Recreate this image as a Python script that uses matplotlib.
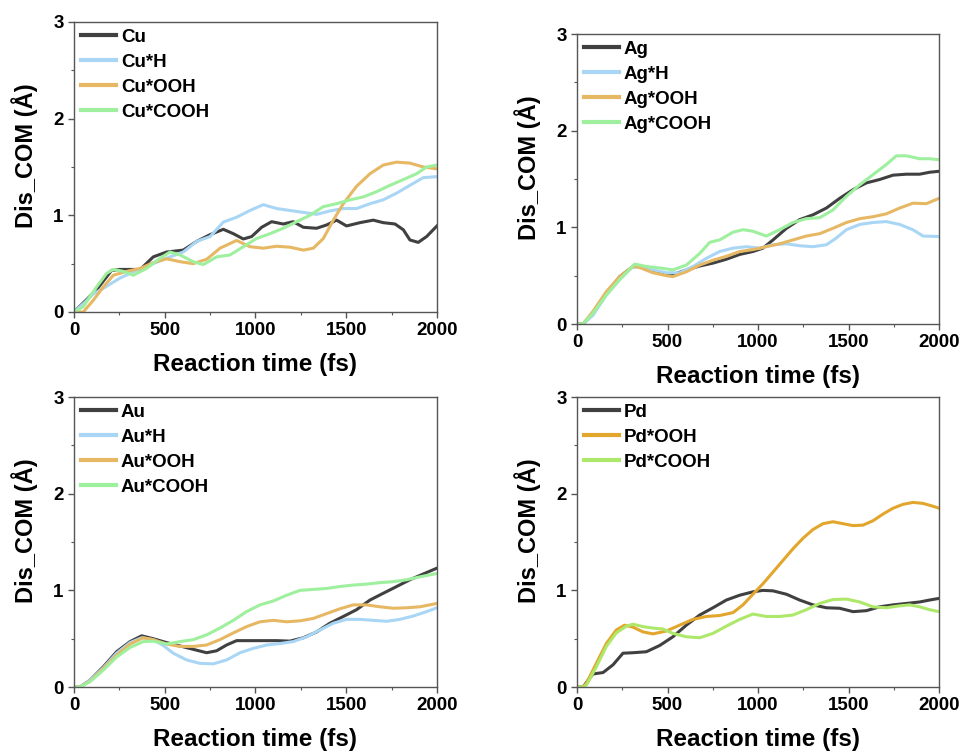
import matplotlib
matplotlib.use("Agg")
import matplotlib.pyplot as plt
from matplotlib.ticker import MultipleLocator

plt.rcParams['font.family'] = ['Liberation Sans', 'DejaVu Sans']
plt.rcParams['font.weight'] = 'bold'

# ---- Cu panel ----
cu_t = [0, 125, 207, 253, 365, 437, 510, 602, 676, 750, 823, 878, 933, 979, 1034, 1089, 1153, 1208,
        1264, 1337, 1392, 1447, 1502, 1576, 1649, 1704, 1769, 1815, 1851, 1897, 1943, 2000]
cu_v = [0, 0.23, 0.43, 0.44, 0.44, 0.57, 0.62, 0.64, 0.73, 0.80, 0.855, 0.81, 0.755, 0.78, 0.876, 0.934,
        0.91, 0.934, 0.876, 0.866, 0.90, 0.95, 0.89, 0.924, 0.95, 0.924, 0.91, 0.85, 0.745, 0.72, 0.78, 0.89]
cuh_t = [0, 60, 106, 162, 253, 345, 437, 529, 602, 676, 750, 823, 896, 970, 1043, 1117, 1190, 1264,
         1337, 1410, 1484, 1557, 1631, 1704, 1778, 1851, 1925, 2000]
cuh_v = [0, 0.10, 0.186, 0.245, 0.35, 0.43, 0.50, 0.57, 0.62, 0.73, 0.78, 0.93, 0.98, 1.05, 1.11, 1.07,
         1.05, 1.03, 1.01, 1.045, 1.07, 1.07, 1.12, 1.16, 1.23, 1.31, 1.39, 1.40]
cuooh_t = [0, 51, 106, 162, 217, 290, 364, 437, 510, 584, 657, 731, 805, 896, 970, 1043, 1117, 1190,
           1264, 1319, 1374, 1429, 1484, 1557, 1631, 1704, 1778, 1851, 1925, 2000]
cuooh_v = [0, 0, 0.12, 0.26, 0.38, 0.42, 0.45, 0.51, 0.55, 0.52, 0.50, 0.545, 0.66, 0.74, 0.675, 0.66,
           0.68, 0.67, 0.64, 0.66, 0.76, 0.95, 1.12, 1.30, 1.43, 1.52, 1.55, 1.54, 1.50, 1.48]
cucooh_t = [0, 51, 125, 180, 217, 272, 327, 400, 474, 529, 584, 657, 713, 786, 860, 933, 1006, 1080,
            1153, 1227, 1300, 1374, 1447, 1521, 1594, 1668, 1741, 1815, 1888, 1943, 2000]
cucooh_v = [0, 0.055, 0.26, 0.40, 0.44, 0.42, 0.38, 0.45, 0.555, 0.62, 0.59, 0.52, 0.49, 0.57, 0.59,
            0.675, 0.76, 0.81, 0.866, 0.934, 1.00, 1.09, 1.12, 1.16, 1.19, 1.245, 1.31, 1.37, 1.43, 1.50, 1.52]

# ---- Ag panel ----
ag_t = [0, 33, 88, 162, 236, 319, 383, 457, 530, 604, 678, 751, 825, 899, 972, 1027, 1083, 1157, 1230,
        1304, 1378, 1451, 1525, 1599, 1672, 1746, 1820, 1893, 1948, 2000]
ag_v = [0, 0, 0.11, 0.32, 0.49, 0.61, 0.58, 0.53, 0.51, 0.56, 0.60, 0.63, 0.67, 0.72, 0.75, 0.785, 0.87,
        0.99, 1.08, 1.13, 1.20, 1.30, 1.39, 1.46, 1.495, 1.54, 1.55, 1.55, 1.57, 1.58]
agh_t = [0, 33, 88, 162, 236, 300, 346, 420, 494, 567, 641, 715, 788, 862, 936, 1009, 1083, 1157, 1230,
         1304, 1378, 1433, 1488, 1562, 1635, 1709, 1783, 1856, 1912, 2000]
agh_v = [0, 0, 0.09, 0.30, 0.46, 0.58, 0.60, 0.56, 0.53, 0.53, 0.595, 0.68, 0.75, 0.785, 0.80, 0.785,
         0.82, 0.83, 0.81, 0.80, 0.82, 0.89, 0.975, 1.03, 1.05, 1.06, 1.03, 0.975, 0.91, 0.905]
agooh_t = [0, 33, 88, 162, 236, 309, 346, 420, 494, 530, 604, 678, 751, 825, 899, 972, 1046, 1120, 1193,
           1267, 1341, 1414, 1488, 1562, 1635, 1709, 1783, 1856, 1930, 2000]
agooh_v = [0, 0, 0.13, 0.335, 0.49, 0.595, 0.585, 0.53, 0.50, 0.49, 0.54, 0.61, 0.66, 0.70, 0.75, 0.77,
           0.80, 0.83, 0.87, 0.91, 0.935, 0.99, 1.05, 1.09, 1.11, 1.14, 1.20, 1.25, 1.245, 1.30]
agcooh_t = [0, 33, 88, 162, 236, 319, 383, 457, 530, 604, 678, 733, 788, 862, 917, 972, 1046, 1120, 1193,
            1267, 1341, 1414, 1488, 1562, 1635, 1709, 1764, 1820, 1893, 1948, 2000]
agcooh_v = [0, 0, 0.11, 0.30, 0.46, 0.62, 0.595, 0.58, 0.56, 0.61, 0.73, 0.845, 0.87, 0.95, 0.976, 0.96,
            0.91, 0.976, 1.05, 1.09, 1.10, 1.18, 1.32, 1.44, 1.545, 1.65, 1.74, 1.74, 1.71, 1.71, 1.70]

# ---- Au panel ----
au_t = [0, 33, 88, 162, 235, 309, 373, 437, 510, 584, 657, 731, 786, 841, 896, 970, 1043, 1117, 1190,
        1264, 1337, 1410, 1484, 1557, 1631, 1704, 1778, 1851, 1925, 2000]
au_v = [0, 0, 0.07, 0.21, 0.365, 0.47, 0.53, 0.50, 0.46, 0.425, 0.39, 0.355, 0.375, 0.435, 0.48, 0.48,
        0.48, 0.48, 0.475, 0.51, 0.57, 0.66, 0.73, 0.80, 0.90, 0.97, 1.04, 1.11, 1.17, 1.23]
auh_t = [0, 33, 88, 162, 235, 309, 373, 437, 492, 547, 621, 694, 768, 841, 915, 988, 1062, 1135, 1208,
         1282, 1355, 1429, 1502, 1576, 1649, 1723, 1796, 1870, 1943, 2000]
auh_v = [0, 0, 0.07, 0.20, 0.35, 0.46, 0.51, 0.49, 0.43, 0.35, 0.28, 0.245, 0.24, 0.28, 0.355, 0.40,
         0.435, 0.45, 0.47, 0.52, 0.59, 0.66, 0.70, 0.70, 0.69, 0.68, 0.70, 0.735, 0.78, 0.82]
auooh_t = [0, 33, 88, 162, 235, 309, 382, 437, 510, 584, 657, 731, 804, 878, 951, 1025, 1098, 1172, 1245,
           1319, 1392, 1466, 1539, 1612, 1686, 1759, 1833, 1906, 2000]
auooh_v = [0, 0, 0.06, 0.19, 0.33, 0.445, 0.51, 0.49, 0.445, 0.42, 0.42, 0.435, 0.49, 0.56, 0.625, 0.675,
           0.69, 0.675, 0.685, 0.71, 0.76, 0.81, 0.85, 0.85, 0.83, 0.815, 0.82, 0.83, 0.865]
aucooh_t = [0, 33, 88, 162, 235, 309, 382, 437, 510, 584, 657, 731, 804, 878, 951, 1025, 1098, 1172, 1245,
            1319, 1392, 1466, 1539, 1612, 1686, 1759, 1833, 1906, 2000]
aucooh_v = [0, 0, 0.055, 0.175, 0.31, 0.41, 0.47, 0.475, 0.445, 0.47, 0.49, 0.54, 0.61, 0.69, 0.78, 0.85,
            0.89, 0.95, 1.00, 1.01, 1.02, 1.04, 1.055, 1.065, 1.08, 1.09, 1.11, 1.14, 1.175]

# ---- Pd panel ----
pd_t = [0, 33, 88, 144, 199, 254, 309, 383, 457, 530, 604, 678, 751, 825, 899, 972, 1028, 1083, 1157,
        1230, 1304, 1378, 1451, 1525, 1599, 1672, 1746, 1820, 1893, 1948, 2000]
pd_v = [0, 0, 0.135, 0.15, 0.23, 0.35, 0.355, 0.365, 0.43, 0.52, 0.64, 0.745, 0.82, 0.90, 0.95, 0.985,
        1.00, 0.995, 0.96, 0.90, 0.85, 0.82, 0.815, 0.78, 0.79, 0.83, 0.85, 0.865, 0.88, 0.90, 0.917]
pdooh_t = [0, 33, 52, 107, 162, 217, 263, 309, 365, 420, 494, 567, 641, 715, 788, 862, 917, 972, 1028,
           1083, 1138, 1193, 1249, 1304, 1359, 1414, 1470, 1525, 1580, 1635, 1691, 1746, 1801, 1856, 1912,
           1967, 2000]
pdooh_v = [0, 0, 0.04, 0.245, 0.45, 0.59, 0.64, 0.62, 0.57, 0.55, 0.58, 0.64, 0.70, 0.73, 0.74, 0.77,
           0.85, 0.96, 1.07, 1.19, 1.31, 1.43, 1.54, 1.63, 1.69, 1.71, 1.69, 1.67, 1.675, 1.72, 1.79, 1.85,
           1.89, 1.91, 1.90, 1.87, 1.85]
pdcooh_t = [0, 33, 52, 107, 162, 217, 273, 309, 365, 420, 475, 530, 604, 678, 751, 825, 899, 972, 1046,
            1120, 1193, 1267, 1341, 1414, 1488, 1562, 1635, 1709, 1783, 1838, 1893, 1948, 2000]
pdcooh_v = [0, 0, 0.02, 0.21, 0.42, 0.56, 0.63, 0.65, 0.625, 0.61, 0.60, 0.555, 0.52, 0.51, 0.555, 0.63,
            0.70, 0.755, 0.73, 0.73, 0.745, 0.80, 0.865, 0.905, 0.91, 0.88, 0.83, 0.82, 0.84, 0.85, 0.83,
            0.80, 0.78]

GRAY = '#404040'
BLUE = '#a9d6f5'
GOLD = '#e6b864'
GREEN = '#9ef09e'
PD_GOLD = '#e3a62c'
PD_GREEN = '#aee86a'

panels = [
    ([0.0769, 0.5857, 0.3773, 0.3851], [
        (cu_t, cu_v, 'Cu', GRAY), (cuh_t, cuh_v, 'Cu*H', BLUE),
        (cuooh_t, cuooh_v, 'Cu*OOH', GOLD), (cucooh_t, cucooh_v, 'Cu*COOH', GREEN)]),
    ([0.5998, 0.5697, 0.3763, 0.3851], [
        (ag_t, ag_v, 'Ag', GRAY), (agh_t, agh_v, 'Ag*H', BLUE),
        (agooh_t, agooh_v, 'Ag*OOH', GOLD), (agcooh_t, agcooh_v, 'Ag*COOH', GREEN)]),
    ([0.0769, 0.0876, 0.3773, 0.3851], [
        (au_t, au_v, 'Au', GRAY), (auh_t, auh_v, 'Au*H', BLUE),
        (auooh_t, auooh_v, 'Au*OOH', GOLD), (aucooh_t, aucooh_v, 'Au*COOH', GREEN)]),
    ([0.5998, 0.0876, 0.3763, 0.3851], [
        (pd_t, pd_v, 'Pd', GRAY), (pdooh_t, pdooh_v, 'Pd*OOH', PD_GOLD),
        (pdcooh_t, pdcooh_v, 'Pd*COOH', PD_GREEN)]),
]

fig = plt.figure(figsize=(9.62, 7.53), dpi=100)

for rect, series in panels:
    ax = fig.add_axes(rect)
    for t, v, name, col in series:
        ax.plot(t, v, color=col, lw=2.2, label=name)
    ax.set_xlim(0, 2000)
    ax.set_ylim(0, 3)
    ax.xaxis.set_major_locator(MultipleLocator(500))
    ax.xaxis.set_minor_locator(MultipleLocator(250))
    ax.yaxis.set_major_locator(MultipleLocator(1))
    ax.yaxis.set_minor_locator(MultipleLocator(0.5))
    ax.tick_params(which='both', direction='out', top=False, right=False,
                   labelsize=13.5, color='#555555')
    ax.tick_params(which='major', length=4, width=1)
    ax.tick_params(which='minor', length=2.5, width=0.8)
    for sp in ax.spines.values():
        sp.set_color('#555555')
        sp.set_linewidth(1.0)
    for lab in ax.get_xticklabels() + ax.get_yticklabels():
        lab.set_fontweight('bold')
    ax.set_xlabel('Reaction time (fs)', fontsize=17.5, fontweight='bold', labelpad=10)
    ax.set_ylabel('Dis_COM (Å)', fontsize=17, fontweight='bold')
    ax.yaxis.set_label_coords(-0.10, 0.54)
    leg = ax.legend(loc='upper left', frameon=False, fontsize=13.5, handlelength=1.9,
                    handletextpad=0.25, labelspacing=0.42, borderaxespad=0.25, borderpad=0.1)
    for line in leg.get_lines():
        line.set_linewidth(3)

fig.savefig('out.png', dpi=100)
